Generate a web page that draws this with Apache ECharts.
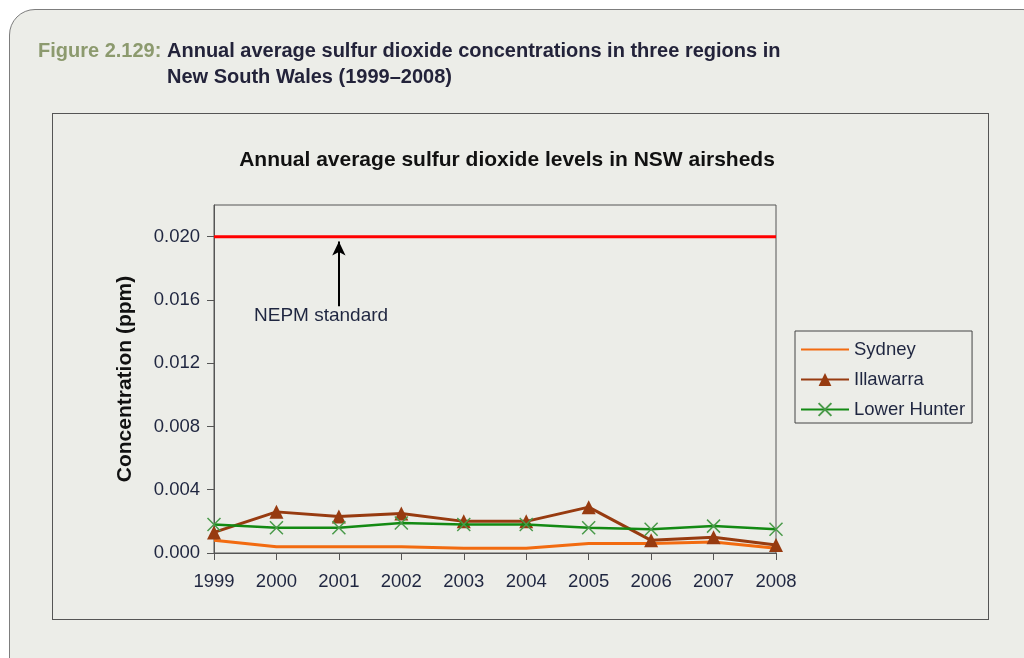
<!DOCTYPE html>
<html>
<head>
<meta charset="utf-8">
<script src="https://cdn.jsdelivr.net/npm/echarts@6/dist/echarts.min.js"></script>
<style>
html,body{margin:0;padding:0;background:#ffffff;overflow:hidden;}
#wrap{position:relative;width:1024px;height:658px;overflow:hidden;}
#panel{position:absolute;left:9px;top:9px;width:1040px;height:690px;border:1.5px solid #7d7d7d;border-radius:26px;background:#ecede8;box-sizing:border-box;}
#inner{position:absolute;left:52px;top:113px;width:937px;height:507px;border:1.5px solid #555;box-sizing:border-box;}
#chart{position:absolute;left:0;top:0;width:1024px;height:658px;}
</style>
</head>
<body>
<div id="wrap">
<div id="panel"></div>
<div id="inner"></div>
<div id="chart"></div>
</div>
<script>
const years = ['1999','2000','2001','2002','2003','2004','2005','2006','2007','2008'];
const sydney = [0.0008,0.0004,0.0004,0.0004,0.0003,0.0003,0.0006,0.0006,0.0007,0.0003];
const illawarra = [0.0013,0.0026,0.0023,0.0025,0.0020,0.0020,0.0029,0.0008,0.0010,0.0005];
const lowerHunter = [0.0018,0.0016,0.0016,0.0019,0.0018,0.0018,0.0016,0.0015,0.0017,0.0015];
const nepmStandard = [0.02,0.02,0.02,0.02,0.02,0.02,0.02,0.02,0.02,0.02];
const yTicks = ['0.000','0.004','0.008','0.012','0.016','0.020'];

const textColor = '#1f2640';
const font = 'Liberation Sans, Arial, sans-serif';
const capFont = 'Liberation Sans, Arial, sans-serif';

const chart = echarts.init(document.getElementById('chart'), null, {renderer:'canvas'});
chart.setOption({
  animation:false,
  backgroundColor:'transparent',
  textStyle:{fontFamily:font},
  title:{
    text:'Annual average sulfur dioxide levels in NSW airsheds',
    left:502, top:145, textAlign:'center',
    textStyle:{fontSize:21,fontWeight:'bold',color:'#111',fontFamily:font}
  },
  graphic:[
    {type:'text',left:38,top:41,style:{
      text:'Figure 2.129:',fontSize:20,fontWeight:'bold',fill:'#8c9a6e',fontFamily:capFont}},
    {type:'text',left:167,top:41,style:{
      text:'Annual average sulfur dioxide concentrations in three regions in',
      fontSize:20,fontWeight:'bold',fill:'#23233a',fontFamily:capFont}},
    {type:'text',left:167,top:67,style:{
      text:'New South Wales (1999\u20132008)',
      fontSize:20,fontWeight:'bold',fill:'#23233a',fontFamily:capFont}},
    {type:'text',left:254,top:306,style:{
      text:'NEPM standard',fontSize:19,fill:textColor,fontFamily:font}}
  ],
  legend:{
    data:[{name:'Sydney',itemStyle:{opacity:0}},'Illawarra','Lower Hunter'],
    orient:'vertical',
    left:795, top:331,
    padding:[9,7,4,5],
    itemWidth:48, itemHeight:16, itemGap:11,
    borderColor:'#444', borderWidth:1,
    textStyle:{fontSize:18.5,color:textColor,fontFamily:font}
  },
  grid:{left:214,right:248,top:205,bottom:105,show:true,borderColor:'#555',borderWidth:1,backgroundColor:'transparent'},
  xAxis:{
    type:'category',data:years,boundaryGap:false,
    axisLine:{lineStyle:{color:'#555',width:1}},
    axisTick:{show:true,length:7,lineStyle:{color:'#555'}},
    axisLabel:{fontSize:18.5,color:textColor,margin:19,fontFamily:font},
    splitLine:{show:false}
  },
  yAxis:{
    type:'value',min:0,max:0.022,interval:0.004,
    name:'Concentration (ppm)',nameLocation:'middle',nameGap:78,
    nameTextStyle:{fontSize:21,fontWeight:'bold',color:'#111',fontFamily:font},
    axisLine:{show:true,lineStyle:{color:'#555',width:1}},
    axisTick:{show:true,length:7,lineStyle:{color:'#555'}},
    axisLabel:{fontSize:18.5,color:textColor,margin:14,showMaxLabel:false,fontFamily:font,
      formatter:function(v){const i=Math.round(v/0.004);return yTicks[i]!==undefined?yTicks[i]:'';}},
    splitLine:{show:false}
  },
  series:[
    {name:'NEPM standard',type:'line',data:nepmStandard,symbol:'none',silent:true,
      lineStyle:{color:'#ff0000',width:3},z:1,
      markLine:{silent:true,symbol:['none','arrow'],symbolSize:[10,14],
        lineStyle:{color:'#000',width:2,type:'solid'},label:{show:false},
        data:[[{coord:['2001',0.0156]},{coord:['2001',0.0197]}]]}},
    {name:'Sydney',type:'line',data:sydney,symbol:'none',
      lineStyle:{color:'#f26b10',width:3},itemStyle:{color:'#f26b10'},z:3},
    {name:'Illawarra',type:'line',data:illawarra,symbol:'triangle',symbolSize:14,
      lineStyle:{color:'#973b10',width:3},itemStyle:{color:'#973b10'},z:4},
    {name:'Lower Hunter',type:'line',data:lowerHunter,symbol:'path://M0,0L10,10M10,0L0,10',symbolSize:13,
      lineStyle:{color:'#138a13',width:2.5},itemStyle:{color:'#4a9a4a',borderColor:'#4a9a4a',borderWidth:1.5},z:5}
  ]
});
</script>
</body>
</html>
